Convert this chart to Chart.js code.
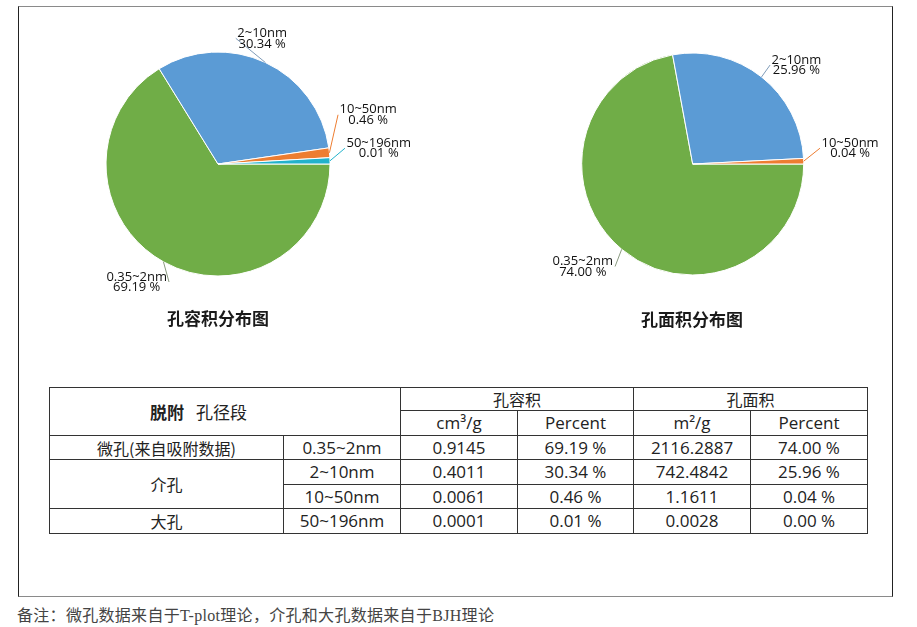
<!DOCTYPE html>
<html lang="zh">
<head>
<meta charset="UTF-8" />
<title>孔容积 / 孔面积分布图</title>
<script src="https://cdn.jsdelivr.net/npm/chart.js"></script>
<style>
  html, body { margin: 0; padding: 0; background: #fff; }
  #page { position: relative; width: 917px; height: 627px; overflow: hidden;
          font-family: "Open Sans", "Noto Sans CJK SC", sans-serif; color: #222; }
  #frame { position: absolute; left: 18px; top: 6px; width: 873px; height: 589px;
           border-top: 1.5px solid #8a8a8a; border-bottom: 1.5px solid #8a8a8a;
           border-left: 1.5px solid #222; border-right: 1.5px solid #222; }
  .pie { position: absolute; }
  .title { position: absolute; width: 200px; text-align: center; font-weight: bold;
           font-size: 17px; font-family: "Noto Sans CJK SC", sans-serif; color: #1a1a1a; }
  #dataTable { position: absolute; left: 49px; top: 387px; width: 818px;
               border-collapse: collapse; table-layout: fixed; font-size: 17px; }
  #dataTable td { border: 1.5px solid #333; text-align: center; padding: 0; line-height: 20px; }
  #dataTable td.cjk { font-family: "Noto Sans CJK SC", sans-serif; font-size: 16px; }
  #note { position: absolute; left: 17px; top: 602px; font-size: 16px; color: #444;
          font-family: "Liberation Serif", "Noto Sans CJK SC", serif; letter-spacing: 0.3px; white-space: nowrap; }
</style>
</head>
<body>
<div id="page">
  <div id="frame"></div>
  <canvas id="volChart" class="pie" style="left:90px;top:10px;width:340px;height:300px"></canvas>
  <canvas id="areaChart" class="pie" style="left:540px;top:10px;width:350px;height:300px"></canvas>
  <div class="title" style="left:118px;top:305px">孔容积分布图</div>
  <div class="title" style="left:592px;top:306px">孔面积分布图</div>
  <table id="dataTable">
    <colgroup>
      <col style="width:234px"><col style="width:117px"><col style="width:117px">
      <col style="width:116px"><col style="width:117px"><col style="width:117px">
    </colgroup>
    <tbody>
      <tr style="height:23px">
        <td colspan="2" rowspan="2" class="cjk" style="text-align:left;padding-left:100px;font-size:17px">
          <b>脱附</b><span style="margin-left:12px">孔径段</span></td>
        <td colspan="2" class="cjk" id="volHead"></td>
        <td colspan="2" class="cjk" id="areaHead"></td>
      </tr>
      <tr style="height:25px" id="unitRow"></tr>
    </tbody>
  </table>
  <div id="note">备注：微孔数据来自于T-plot理论，介孔和大孔数据来自于BJH理论</div>
</div>

<script>
  // Data
  const sizeRanges   = ['0.35~2nm', '2~10nm', '10~50nm', '50~196nm'];
  const poreTypes    = ['微孔(来自吸附数据)', '介孔', '介孔', '大孔'];
  const volValues    = ['0.9145', '0.4011', '0.0061', '0.0001'];
  const volPercent   = ['69.19 %', '30.34 %', '0.46 %', '0.01 %'];
  const areaValues   = ['2116.2887', '742.4842', '1.1611', '0.0028'];
  const areaPercent  = ['74.00 %', '25.96 %', '0.04 %', '0.00 %'];
  const groupHeads   = ['孔容积', '孔面积'];
  const unitHeads    = ['cm³/g', 'Percent', 'm²/g', 'Percent'];
  // slice sizes as drawn in the pies (small slices are drawn wider than their share)
  const volSlices    = [66.2, 31.5, 1.4, 0.9];
  const areaSlices   = [72.1, 27.1, 0.8];
  const sliceColors  = ['#70AD47', '#5B9BD5', '#ED7D31', '#22B2CB'];

  // Pie labels with leader lines
  const pieLabels = {
    id: 'pieLabels',
    afterDatasetsDraw(chart, args, opts) {
      const ctx = chart.ctx, meta = chart.getDatasetMeta(0);
      ctx.save();
      ctx.font = '13px "Open Sans", sans-serif';
      ctx.textBaseline = 'middle';
      meta.data.forEach((arc, i) => {
        const p = arc.getProps(['x', 'y', 'startAngle', 'endAngle', 'outerRadius'], true);
        const mid = (p.startAngle + p.endAngle) / 2;
        const ex = p.x + p.outerRadius * Math.cos(mid), ey = p.y + p.outerRadius * Math.sin(mid);
        const lx = ex + opts.leader[i][0], ly = ey + opts.leader[i][1];
        ctx.strokeStyle = opts.lineColors[i];
        ctx.lineWidth = 1;
        ctx.beginPath(); ctx.moveTo(ex, ey); ctx.lineTo(lx, ly); ctx.stroke();
        const lines = [chart.data.labels[i], opts.texts[i]];
        const w = Math.max(...lines.map(t => ctx.measureText(t).width));
        const left = opts.side[i] === 'left' ? lx - 2 - w : lx + 1.5;
        ctx.fillStyle = '#111';
        ctx.textAlign = 'center';
        ctx.fillText(lines[0], left + w / 2, ly - 5);
        ctx.fillText(lines[1], left + w / 2, ly + 5.5);
      });
      ctx.restore();
    }
  };

  function makePie(id, values, texts, padding, leader, side) {
    const n = values.length;
    return new Chart(document.getElementById(id), {
      type: 'pie',
      data: {
        labels: sizeRanges.slice(0, n),
        datasets: [{ data: values, backgroundColor: sliceColors.slice(0, n), borderColor: '#fff', borderWidth: 1 }]
      },
      options: {
        responsive: false, animation: false, rotation: 90,
        layout: { padding },
        plugins: {
          legend: { display: false }, tooltip: { enabled: false },
          pieLabels: { texts, leader, side, lineColors: ['#8a9a80', '#7f9bb8', '#ED7D31', '#22B2CB'] }
        }
      },
      plugins: [pieLabels]
    });
  }

  ['volChart', 'areaChart'].forEach(id => {
    const c = document.getElementById(id);
    c.width = parseInt(c.style.width); c.height = parseInt(c.style.height);
  });

  makePie('volChart', volSlices, volPercent,
    { left: 15.5, top: 41.5, right: 99.5, bottom: 33.5 },
    [[5.6, 20.2], [-29.6, -24.2], [8.6, -38], [15, -12.6]],
    ['left', 'right', 'right', 'right']);
  makePie('areaChart', areaSlices, areaPercent,
    { left: 41.2, top: 42.5, right: 85.8, bottom: 34.5 },
    [[-6.6, 17.2], [8.5, -11.9], [16.3, -13]],
    ['left', 'right', 'right']);

  // Table
  document.getElementById('volHead').textContent = groupHeads[0];
  document.getElementById('areaHead').textContent = groupHeads[1];
  document.getElementById('unitRow').innerHTML = unitHeads.map(u => `<td>${u}</td>`).join('');
  const tbody = document.querySelector('#dataTable tbody');
  const rowHeights = [24, 25, 24, 25];
  sizeRanges.forEach((r, i) => {
    const tr = document.createElement('tr');
    tr.style.height = rowHeights[i] + 'px';
    let first = '';
    if (i === 1) first = `<td rowspan="2" class="cjk">${poreTypes[i]}</td>`;
    else if (i !== 2) first = `<td class="cjk">${poreTypes[i]}</td>`;
    tr.innerHTML = first + `<td>${r}</td><td>${volValues[i]}</td><td>${volPercent[i]}</td>` +
                   `<td>${areaValues[i]}</td><td>${areaPercent[i]}</td>`;
    tbody.appendChild(tr);
  });
</script>
</body>
</html>
